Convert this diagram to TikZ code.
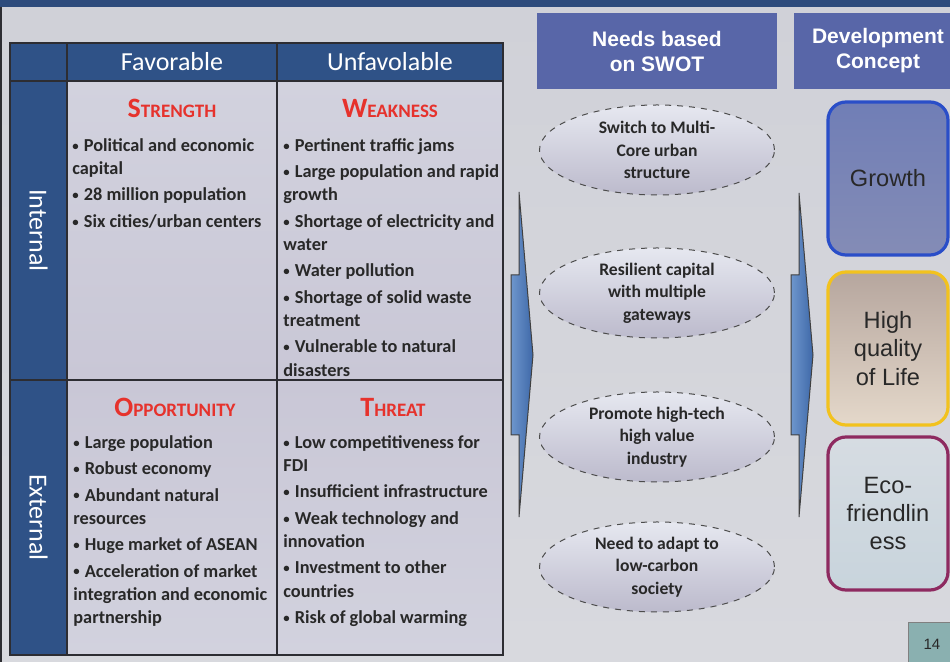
\documentclass[tikz,border=0pt]{standalone}
\usepackage{fontspec}
\setmainfont{Carlito}
\newfontfamily\arialf{Liberation Sans}
\usetikzlibrary{shapes.geometric}
\definecolor{bgc}{RGB}{208,209,216}
\definecolor{bgc2}{RGB}{216,217,222}
\definecolor{band}{RGB}{45,75,124}
\definecolor{tblue}{RGB}{47,82,135}
\definecolor{cellc}{RGB}{201,199,214}
\definecolor{cellc2}{RGB}{210,210,222}
\definecolor{tline}{RGB}{45,45,50}
\definecolor{tred}{RGB}{230,50,44}
\definecolor{hbox}{RGB}{88,102,168}
\definecolor{arrA}{RGB}{110,150,205}
\definecolor{arrB}{RGB}{62,104,168}
\definecolor{ellA}{RGB}{230,232,240}
\definecolor{ellB}{RGB}{188,186,204}
\definecolor{growB}{RGB}{42,78,200}
\definecolor{growF}{RGB}{112,126,182}
\definecolor{growF2}{RGB}{132,140,182}
\definecolor{qualB}{RGB}{242,194,30}
\definecolor{qualF}{RGB}{182,166,158}
\definecolor{qualF2}{RGB}{228,216,202}
\definecolor{ecoB}{RGB}{142,42,96}
\definecolor{ecoF}{RGB}{214,220,226}
\definecolor{ecoF2}{RGB}{200,212,220}
\definecolor{pgF}{RGB}{138,176,176}
\definecolor{txt}{RGB}{40,40,40}
\newcommand\bul{\raisebox{0.12ex}{\scalebox{0.7}{•}}\hspace{0.28em}}
\begin{document}
\begin{tikzpicture}[x=0.5pt,y=-0.5pt,
  cellbox/.style={draw=tline,line width=1pt,fill=cellc,inner sep=0},
  bluecell/.style={draw=tline,line width=1pt,fill=tblue,inner sep=0},
  hdrtext/.style={text=white,font=\fontsize{13}{14}\selectfont},
  sidetext/.style={text=white,font=\fontsize{13}{14}\selectfont,rotate=-90},
  body/.style={anchor=north west,inner sep=0,align=left,text=txt,
    font=\bfseries\fontsize{9.15}{11.6}\selectfont},
  ttl/.style={anchor=base,inner sep=0,text=tred,font=\bfseries\fontsize{9.5}{10}\selectfont},
  headbox/.style={fill=hbox,inner sep=0,minimum height=38pt,text=white,align=center,
    font=\arialf\bfseries\fontsize{10.5}{12.5}\selectfont},
  need/.style={ellipse,draw=black!70,dashed,line width=0.5pt,inner sep=0,
    minimum width=117.5pt,minimum height=45pt,top color=ellA,
    bottom color=ellB,align=center,text=txt,
    font=\bfseries\fontsize{8.8}{11.3}\selectfont},
  arrowshape/.style={draw=black!75,line width=0.5pt,left color=arrA,right color=arrB},
  concept/.style={rounded corners=9pt,line width=1.6pt,minimum width=60pt,
    minimum height=76.5pt,inner sep=0,align=center,text=txt,
    font=\arialf\fontsize{11.8}{14.2}\selectfont}]
\useasboundingbox (0,0) rectangle (950,662);
\shade[top color=bgc,bottom color=bgc2] (0,0) rectangle (950,662);
\fill[band] (0,0) rectangle (950,7);
\draw[tline,line width=1pt] (1,7) -- (1,662);
% table
\node[bluecell,minimum width=28.5pt,minimum height=19pt] (corner) at (38.5,62) {};
\node[bluecell,minimum width=105pt,minimum height=19pt] (favh) at (172,62) {};
\node[bluecell,minimum width=113pt,minimum height=19pt] (unfh) at (390,62) {};
\node[bluecell,minimum width=28.5pt,minimum height=149.5pt] (intl) at (38.5,230.5) {};
\node[bluecell,minimum width=28.5pt,minimum height=137.5pt] (extl) at (38.5,517.5) {};
\node[cellbox,minimum width=105pt,minimum height=149.5pt,top color=cellc2,bottom color=cellc] (scell) at (172,230.5) {};
\node[cellbox,minimum width=113pt,minimum height=149.5pt,top color=cellc2,bottom color=cellc] (wcell) at (390,230.5) {};
\node[cellbox,minimum width=105pt,minimum height=137.5pt,top color=cellc,bottom color=cellc2] (ocell) at (172,517.5) {};
\node[cellbox,minimum width=113pt,minimum height=137.5pt,top color=cellc,bottom color=cellc2] (tcell) at (390,517.5) {};
\node[hdrtext] (favt) at (favh) {Favorable};
\node[hdrtext] (unft) at (unfh) {Unfavolable};
\node[sidetext] (intt) at (intl) {Internal};
\node[sidetext] (extt) at (extl) {External};
% titles
\node[ttl] (stl) at (172,118) {{\fontsize{14}{14}\selectfont S}TRENGTH};
\node[ttl] (wtl) at (390,118) {{\fontsize{14}{14}\selectfont W}EAKNESS};
\node[ttl] (otl) at (175,417) {{\fontsize{14}{14}\selectfont O}PPORTUNITY};
\node[ttl] (ttl) at (393,417) {{\fontsize{14}{14}\selectfont T}HREAT};
% bodies
\node[body] (stx) at (72,138) {\bul Political and economic\\capital\\[1.6pt]\bul 28 million population\\[1.6pt]\bul Six cities/urban centers};
\node[body] (wtx) at (283,138) {\bul Pertinent traffic jams\\[1.6pt]\bul Large population and rapid\\growth\\[1.6pt]\bul Shortage of electricity and\\water\\[1.6pt]\bul Water pollution\\[1.6pt]\bul Shortage of solid waste\\treatment\\[1.6pt]\bul Vulnerable to natural\\disasters};
\node[body] (otx) at (73,435) {\bul Large population\\[1.6pt]\bul Robust economy\\[1.6pt]\bul Abundant natural\\resources\\[1.6pt]\bul Huge market of ASEAN\\[1.6pt]\bul Acceleration of market\\integration and economic\\partnership};
\node[body] (ttx) at (283,435) {\bul Low competitiveness for\\FDI\\[1.6pt]\bul Insufficient infrastructure\\[1.6pt]\bul Weak technology and\\innovation\\[1.6pt]\bul Investment to other\\countries\\[1.6pt]\bul Risk of global warming};
% right headers
\node[headbox,minimum width=120pt] (needh) at (657,51) {Needs based\\on SWOT};
\node[headbox,minimum width=84pt] (devh) at (878,51) {Development\\Concept};
% arrows
\draw[arrowshape] (519,192) -- (533,355) -- (519,517) -- (519,435) -- (511,435) -- (511,275) -- (519,275) -- cycle;
\draw[arrowshape] (799,193) -- (813,355) -- (799,517) -- (799,435) -- (791,435) -- (791,275) -- (799,275) -- cycle;
% needs
\node[need] (n1) at (657,150) {Switch to Multi-\\Core urban\\structure};
\node[need] (n2) at (657,293) {Resilient capital\\with multiple\\gateways};
\node[need] (n3) at (657,437) {Promote high-tech\\high value\\industry};
\node[need] (n4) at (657,567) {Need to adapt to\\low-carbon\\society};
% concepts
\node[concept,draw=growB,top color=growF,bottom color=growF2] (grow) at (888,178.5) {Growth};
\node[concept,draw=qualB,top color=qualF,bottom color=qualF2] (qual) at (888,348.5) {High\\quality\\of Life};
\node[concept,draw=ecoB,top color=ecoF,bottom color=ecoF2] (eco) at (888,513.5) {Eco-\\friendlin\\ess};
% page number
\node[fill=pgF,draw=black!50,line width=0.4pt,minimum width=24pt,minimum height=22pt,inner sep=0,
  text=txt,font=\arialf\fontsize{7.5}{8}\selectfont] (pg) at (932,644) {14};
\end{tikzpicture}
\end{document}
